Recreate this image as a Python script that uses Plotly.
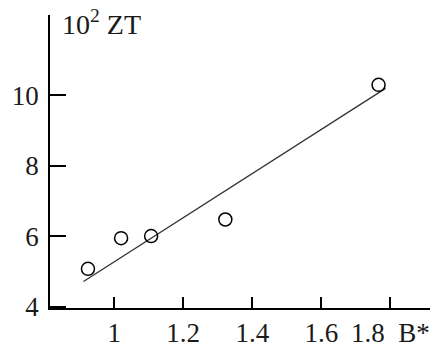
import plotly.graph_objects as go

# Data
b_star = [0.924, 1.020, 1.107, 1.322, 1.766]
zt_1e2 = [5.08, 5.95, 6.01, 6.48, 10.30]

fit_x = [0.911, 1.786]
fit_y = [4.72, 10.20]

x_axis_title = "B*"
x_tick_vals = [1.0, 1.2, 1.4, 1.6, 1.8]
x_tick_text = ["1", "1.2", "1.4", "1.6", "1.8"]
y_tick_vals = [4, 6, 8, 10]
y_tick_text = ["4", "6", "8", "10"]

# the axis name sits on the same row as the last tick label, as in the reference
x_tick_labels = x_tick_text[:-1] + [x_tick_text[-1] + "&nbsp;&nbsp;" + x_axis_title]

FONT = "Liberation Serif, Times New Roman, serif"
INK = "#1a1a1a"
FS = 27

fig = go.Figure()
fig.add_trace(go.Scatter(
    x=fit_x, y=fit_y, mode="lines",
    line=dict(color="#333333", width=1.3),
    showlegend=False, hoverinfo="skip"))
fig.add_trace(go.Scatter(
    x=b_star, y=zt_1e2, mode="markers",
    marker=dict(symbol="circle-open", size=13, color="black",
                line=dict(width=1.5, color="black")),
    showlegend=False))

fig.update_layout(
    width=438, height=351,
    margin=dict(l=50, r=8, t=15, b=43),
    paper_bgcolor="white", plot_bgcolor="white",
    font=dict(family=FONT, size=FS, color=INK),
    xaxis=dict(range=[0.814, 1.915], showgrid=False, zeroline=False,
               showline=True, linecolor="black", linewidth=1.8,
               ticks="inside", ticklen=11, tickwidth=1.8, tickcolor="black",
               tickvals=x_tick_vals, ticktext=x_tick_labels, tickangle=0,
               ticklabelstandoff=0, ticklabeloverflow="allow",
               automargin=False,
               tickfont=dict(family=FONT, size=FS, color=INK)),
    yaxis=dict(range=[3.97, 12.28], showgrid=False, zeroline=False,
               showline=True, linecolor="black", linewidth=1.8,
               ticks="inside", ticklen=16, tickwidth=1.8, tickcolor="black",
               tickvals=y_tick_vals, ticktext=y_tick_text,
               ticklabelstandoff=4, ticklabeloverflow="allow",
               automargin=False,
               tickfont=dict(family=FONT, size=FS, color=INK)),
    annotations=[
        dict(text="10<sup>2</sup> ZT", xref="paper", yref="paper",
             x=0.026, y=0.975, xanchor="left", yanchor="middle",
             showarrow=False, font=dict(family=FONT, size=FS + 1, color=INK)),
    ],
)

fig.write_html("out.html")
